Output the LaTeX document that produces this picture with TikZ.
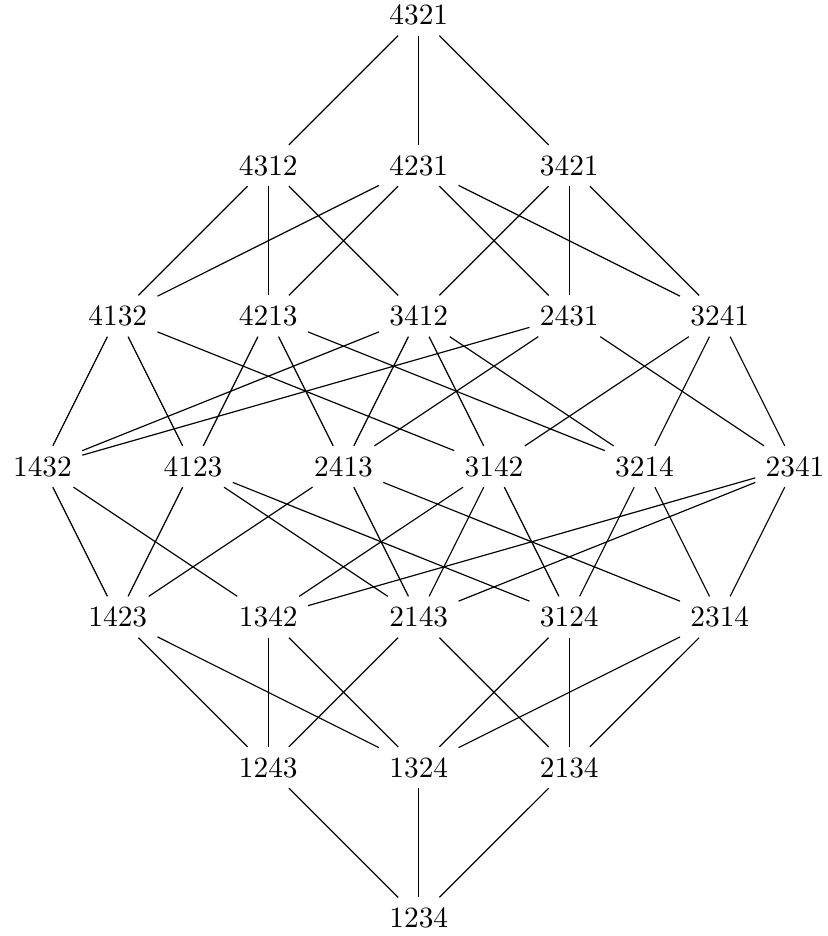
\documentclass[tikz,border=0pt]{standalone}
\begin{document}
\begin{tikzpicture}[x=1.8cm,y=1.8cm,
  perm/.style={inner sep=3.33pt},
  link/.style={line width=0.4pt}]
\useasboundingbox (-142.5pt,5.1pt) rectangle (139.1pt,-313.4pt);
% row 0
\node[perm] (p4321) at (0,0) {4321};
% row 1
\node[perm] (p4312) at (-1,-1) {4312};
\node[perm] (p4231) at (0,-1) {4231};
\node[perm] (p3421) at (1,-1) {3421};
% row 2
\node[perm] (p4132) at (-2,-2) {4132};
\node[perm] (p4213) at (-1,-2) {4213};
\node[perm] (p3412) at (0,-2) {3412};
\node[perm] (p2431) at (1,-2) {2431};
\node[perm] (p3241) at (2,-2) {3241};
% row 3
\node[perm] (p1432) at (-2.5,-3) {1432};
\node[perm] (p4123) at (-1.5,-3) {4123};
\node[perm] (p2413) at (-0.5,-3) {2413};
\node[perm] (p3142) at (0.5,-3) {3142};
\node[perm] (p3214) at (1.5,-3) {3214};
\node[perm] (p2341) at (2.5,-3) {2341};
% row 4
\node[perm] (p1423) at (-2,-4) {1423};
\node[perm] (p1342) at (-1,-4) {1342};
\node[perm] (p2143) at (0,-4) {2143};
\node[perm] (p3124) at (1,-4) {3124};
\node[perm] (p2314) at (2,-4) {2314};
% row 5
\node[perm] (p1243) at (-1,-5) {1243};
\node[perm] (p1324) at (0,-5) {1324};
\node[perm] (p2134) at (1,-5) {2134};
% row 6
\node[perm] (p1234) at (0,-6) {1234};
\foreach \a/\b in {
 4321/4312, 4321/4231, 4321/3421,
 4312/3412, 4312/4132, 4312/4213,
 4231/2431, 4231/3241, 4231/4132, 4231/4213,
 3421/2431, 3421/3241, 3421/3412,
 4132/1432, 4132/3142, 4132/4123,
 4213/2413, 4213/3214, 4213/4123,
 3412/1432, 3412/2413, 3412/3142, 3412/3214,
 2431/1432, 2431/2341, 2431/2413,
 3241/2341, 3241/3142, 3241/3214,
 1432/1342, 1432/1423,
 4123/1423, 4123/2143, 4123/3124,
 2413/1423, 2413/2143, 2413/2314,
 3142/1342, 3142/2143, 3142/3124,
 3214/2314, 3214/3124,
 2341/1342, 2341/2143, 2341/2314,
 1423/1243, 1423/1324,
 1342/1243, 1342/1324,
 2143/1243, 2143/2134,
 3124/1324, 3124/2134,
 2314/1324, 2314/2134,
 1243/1234, 1324/1234, 2134/1234}
 \draw[link] (p\a) -- (p\b);
\end{tikzpicture}
\end{document}
